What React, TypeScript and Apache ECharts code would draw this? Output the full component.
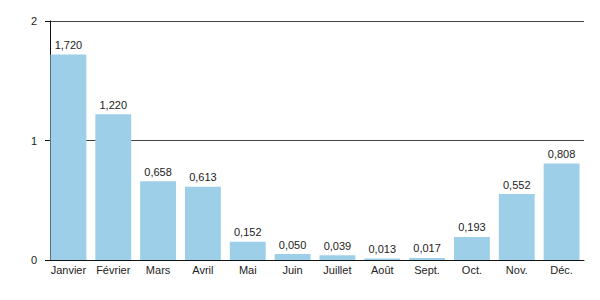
import React, { useEffect, useRef } from "react";
import * as echarts from "echarts";

const categories = ["Janvier", "Février", "Mars", "Avril", "Mai", "Juin", "Juillet", "Août", "Sept.", "Oct.", "Nov.", "Déc."];
const values = [1.72, 1.22, 0.658, 0.613, 0.152, 0.05, 0.039, 0.013, 0.017, 0.193, 0.552, 0.808];
const yTicks = [0, 1, 2];

export default function App() {
  const ref = useRef<HTMLDivElement>(null);
  useEffect(() => {
    if (!ref.current) return;
    const chart = echarts.init(ref.current, null, { renderer: "svg" });
    chart.setOption({
      animation: false,
      textStyle: { fontFamily: "Liberation Sans, Arial, sans-serif" },
      grid: { left: 46, right: 16, top: 21, bottom: 40, containLabel: false },
      xAxis: {
        type: "category",
        data: categories,
        axisLine: { lineStyle: { color: "#111", width: 1 } },
        axisTick: { show: false },
        axisLabel: { color: "#222", fontSize: 11, margin: 4, interval: 0 },
      },
      yAxis: {
        type: "value",
        min: yTicks[0],
        max: yTicks[yTicks.length - 1],
        interval: 1,
        offset: -4,
        axisLine: { show: true, lineStyle: { color: "#111", width: 1 } },
        axisTick: { show: true, length: 5, lineStyle: { color: "#111" } },
        axisLabel: { color: "#222", fontSize: 11, margin: 13 },
        splitLine: { show: true, lineStyle: { color: "#444", width: 1 } },
      },
      series: [
        {
          type: "bar",
          data: values,
          barCategoryGap: "20%",
          itemStyle: { color: "#9ecfe9" },
          label: {
            show: true,
            position: "top",
            distance: 4,
            color: "#222",
            fontSize: 11,
            formatter: (p: any) => p.value.toFixed(3).replace(".", ","),
          },
        },
      ],
    });
    return () => chart.dispose();
  }, []);
  return <div ref={ref} style={{ position: "absolute", left: 0, top: 0, width: 600, height: 300 }} />;
}
